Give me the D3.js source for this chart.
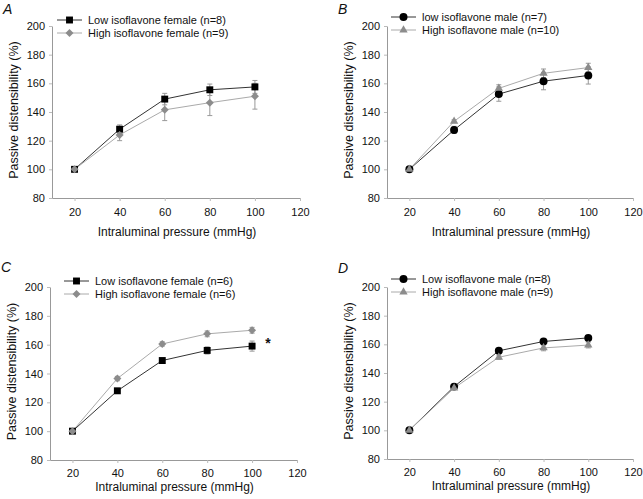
<!DOCTYPE html>
<html>
<head>
<meta charset="utf-8">
<script src="https://cdn.jsdelivr.net/npm/d3@7"></script>
<style>
  html, body { margin: 0; padding: 0; background: #fff; }
  svg { display: block; font-family: "Liberation Sans", Arial, Helvetica, sans-serif; }
</style>
</head>
<body>
<svg id="chart" width="643" height="499"></svg>
<script>
// ---------------- DATA ----------------
const pressures = [20, 40, 60, 80, 100];
const xTicks = [20, 40, 60, 80, 100, 120];
const yTicks = [80, 100, 120, 140, 160, 180, 200];

const panelLetters = ["A", "B", "C", "D"];

// Panel A (female)
const aLowLabel = "Low isoflavone female (n=8)";
const aLowValues = [100, 128, 149, 155.5, 157.5];
const aLowErrors = [0, 3, 4, 4, 4.5];
const aHighLabel = "High isoflavone female (n=9)";
const aHighValues = [100, 124, 141.5, 146.5, 151];
const aHighErrors = [0, 4, 7.5, 9, 9];

// Panel B (male)
const bLowLabel = "low isoflavone male (n=7)";
const bLowValues = [100, 127.5, 152.5, 161.5, 165.5];
const bLowErrors = [0, 2.5, 5, 6, 6];
const bHighLabel = "High isoflavone male (n=10)";
const bHighValues = [100, 133.5, 156.5, 167, 171];
const bHighErrors = [0, 1, 2.5, 3, 3];

// Panel C (female)
const cLowLabel = "Low isoflavone female (n=6)";
const cLowValues = [100, 128, 149, 156, 159];
const cLowErrors = [0, 1, 1.5, 2.5, 3.5];
const cHighLabel = "High isoflavone female (n=6)";
const cHighValues = [100, 136.5, 160.5, 167.5, 170];
const cHighErrors = [0, 1.5, 1.5, 2, 2];

// Panel D (male)
const dLowLabel = "Low isoflavone male (n=8)";
const dLowValues = [100, 130.5, 155.5, 162, 164.5];
const dLowErrors = [0, 1, 1.5, 1.5, 1.5];
const dHighLabel = "High isoflavone male (n=9)";
const dHighValues = [100, 129.5, 151, 157.5, 159.5];
const dHighErrors = [0, 1, 1.5, 2, 2];

const xTitle = "Intraluminal pressure (mmHg)";
const yTitle = "Passive distensibility (%)";
const significance = "*";

// ---------------- LAYOUT ----------------
const panels = [
  { letter: panelLetters[0], x0: 52, x1: 300, yTop: 26, yBot: 198, tickPad: 7, titleOff: 38, letterOff: 12,
    low: {label: aLowLabel, v: aLowValues, e: aLowErrors, shape: "square"},
    high: {label: aHighLabel, v: aHighValues, e: aHighErrors, shape: "diamond"}, legX: 57, legY: 20, star: false },
  { letter: panelLetters[1], x0: 387, x1: 633, yTop: 26, yBot: 198, tickPad: 7, titleOff: 38, letterOff: 12,
    low: {label: bLowLabel, v: bLowValues, e: bLowErrors, shape: "circle"},
    high: {label: bHighLabel, v: bHighValues, e: bHighErrors, shape: "triangle"}, legX: 391, legY: 17, star: false },
  { letter: panelLetters[2], x0: 50, x1: 297, yTop: 287, yBot: 460, tickPad: 6, titleOff: 31, letterOff: 15,
    low: {label: cLowLabel, v: cLowValues, e: cLowErrors, shape: "square"},
    high: {label: cHighLabel, v: cHighValues, e: cHighErrors, shape: "diamond"}, legX: 64, legY: 281, star: true },
  { letter: panelLetters[3], x0: 387, x1: 633, yTop: 287, yBot: 459, tickPad: 6, titleOff: 31, letterOff: 14,
    low: {label: dLowLabel, v: dLowValues, e: dLowErrors, shape: "circle"},
    high: {label: dHighLabel, v: dHighValues, e: dHighErrors, shape: "triangle"}, legX: 391, legY: 279, star: false },
];

const svg = d3.select("#chart");
const LOW_COLOR = "#000";
const HIGH_COLOR = "#8c8c8c";
const LOW_LINE = "#333";
const HIGH_LINE = "#aaa";
const AXIS_COLOR = "#999";

function symbolFor(shape) {
  if (shape === "square") return d3.symbol().type(d3.symbolSquare).size(48);
  if (shape === "diamond") return d3.symbol().type(d3.symbolSquare).size(32);
  if (shape === "circle") return d3.symbol().type(d3.symbolCircle).size(50);
  return d3.symbol().type(d3.symbolTriangle).size(30);
}
function rotFor(shape) { return shape === "diamond" ? " rotate(45)" : ""; }

panels.forEach(p => {
  const g = svg.append("g");
  const x = d3.scaleLinear().domain([10, 120]).range([p.x0, p.x1]);
  const y = d3.scaleLinear().domain([80, 200]).range([p.yBot, p.yTop]);

  // axes
  const yAxis = d3.axisLeft(y).tickValues(yTicks).tickSize(3).tickPadding(4).tickSizeOuter(0);
  const gy = g.append("g").attr("transform", `translate(${p.x0},0)`).call(yAxis);
  const xAxis = d3.axisBottom(x).tickValues(xTicks).tickSize(3).tickPadding(p.tickPad).tickSizeOuter(0);
  const gx = g.append("g").attr("transform", `translate(0,${p.yBot})`).call(xAxis);
  [gx, gy].forEach(ax => {
    ax.select(".domain").attr("stroke", AXIS_COLOR);
    ax.selectAll(".tick line").attr("stroke", "#bbb");
    ax.selectAll(".tick text").attr("fill", "#111").style("font-size", "11px");
  });

  // titles
  g.append("text")
    .attr("x", (p.x0 + p.x1) / 2 + 1)
    .attr("y", p.yBot + p.titleOff)
    .attr("text-anchor", "middle")
    .style("font-size", "12px").attr("fill", "#111")
    .text(xTitle);
  g.append("text")
    .attr("transform", `translate(${p.x0 - 34},${(p.yTop + p.yBot) / 2 - 2}) rotate(-90)`)
    .attr("text-anchor", "middle")
    .style("font-size", "12.5px").attr("fill", "#111")
    .text(yTitle);
  g.append("text")
    .attr("x", p.x0 - 49)
    .attr("y", p.yTop - p.letterOff)
    .style("font-size", "14px").style("font-style", "italic").attr("fill", "#111")
    .text(p.letter);

  const line = d3.line().x((d, i) => x(pressures[i])).y(d => y(d));

  // low drawn first, high on top (as in the reference where grey markers overlap)
  const series = [
    { s: p.low, color: LOW_COLOR, lc: LOW_LINE },
    { s: p.high, color: HIGH_COLOR, lc: HIGH_LINE },
  ];
  series.forEach(({ s, lc }) => {
    const eb = g.append("g");
    s.v.forEach((v, i) => {
      if (!s.e[i]) return;
      const cx = x(pressures[i]);
      eb.append("line").attr("x1", cx).attr("x2", cx)
        .attr("y1", y(v - s.e[i])).attr("y2", y(v + s.e[i]))
        .attr("stroke", "#999").attr("stroke-width", 1);
      [v - s.e[i], v + s.e[i]].forEach(ev => {
        eb.append("line").attr("x1", cx - 2.5).attr("x2", cx + 2.5)
          .attr("y1", y(ev)).attr("y2", y(ev))
          .attr("stroke", "#999").attr("stroke-width", 1);
      });
    });
    g.append("path").datum(s.v).attr("d", line)
      .attr("fill", "none").attr("stroke", lc).attr("stroke-width", 1);
  });
  series.forEach(({ s, color }) => {
    g.selectAll(null).data(s.v).enter().append("path")
      .attr("d", symbolFor(s.shape))
      .attr("transform", (d, i) => `translate(${x(pressures[i])},${y(d)})${rotFor(s.shape)}`)
      .attr("fill", color);
  });

  // legend
  const legItems = [
    { s: p.low, color: LOW_COLOR, lc: LOW_LINE },
    { s: p.high, color: HIGH_COLOR, lc: HIGH_LINE },
  ];
  legItems.forEach((it, k) => {
    const ly = p.legY + k * 13;
    g.append("line").attr("x1", p.legX).attr("x2", p.legX + 25)
      .attr("y1", ly).attr("y2", ly).attr("stroke", it.lc).attr("stroke-width", 1);
    g.append("path").attr("d", symbolFor(it.s.shape))
      .attr("transform", `translate(${p.legX + 12.5},${ly})${rotFor(it.s.shape)}`)
      .attr("fill", it.color);
    g.append("text").attr("x", p.legX + 31).attr("y", ly + 4)
      .style("font-size", "11px").attr("fill", "#111")
      .text(it.s.label);
  });

  if (p.star) {
    const last = p.low.v.length - 1;
    g.append("text")
      .attr("x", x(pressures[last]) + 16)
      .attr("y", y((p.low.v[last] + p.high.v[last]) / 2) + 10)
      .attr("text-anchor", "middle")
      .style("font-size", "14px").style("font-weight", "bold").attr("fill", "#111")
      .text(significance);
  }
});
</script>
</body>
</html>
